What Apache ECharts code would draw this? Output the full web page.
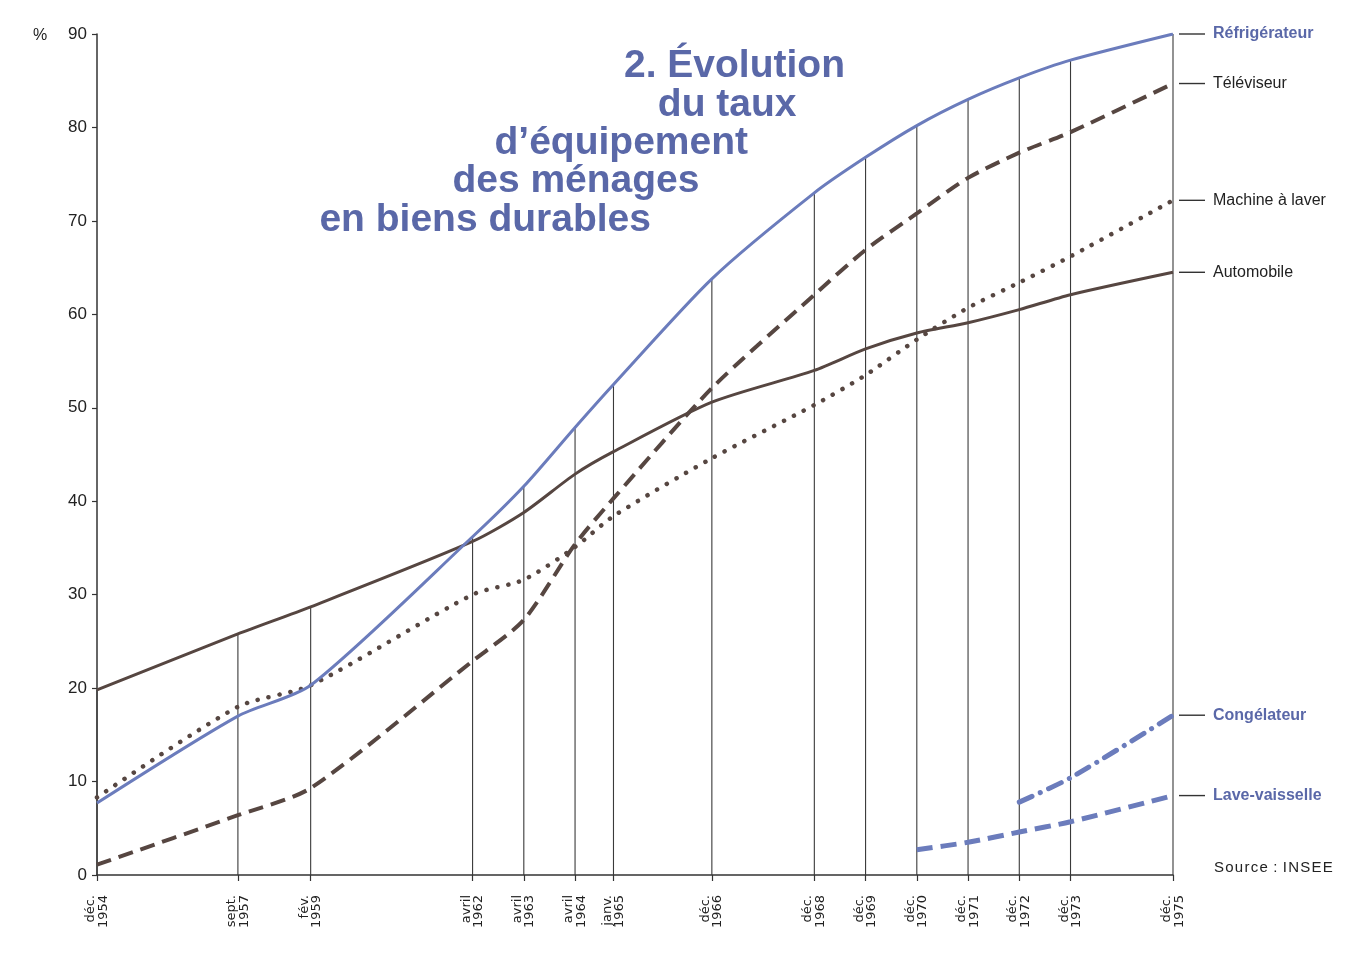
<!DOCTYPE html>
<html><head><meta charset="utf-8">
<script src="https://cdn.jsdelivr.net/npm/echarts@6/dist/echarts.min.js"></script>
<style>html,body{margin:0;padding:0;background:#fff}#c{width:1356px;height:958px}</style>
</head><body><div id="c"></div>
<script>
// Dates (x positions in decimal years) and their tick labels
const dateLabels = ['déc.\n1954','sept.\n1957','fév.\n1959','avril\n1962','avril\n1963','avril\n1964','janv.\n1965','déc.\n1966','déc.\n1968','déc.\n1969','déc.\n1970','déc.\n1971','déc.\n1972','déc.\n1973','déc.\n1975'];
const dateValues = [1954.96,1957.71,1959.13,1962.29,1963.29,1964.29,1965.04,1966.96,1968.96,1969.96,1970.96,1971.96,1972.96,1973.96,1975.96];

// Equipment rates (%)
const refrigerateur = [7.7,17.0,20.3,36.2,41.6,47.9,52.5,63.8,73.0,76.8,80.2,83.0,85.3,87.2,90.0];
const televiseur    = [1.1,6.4,9.3,22.9,27.3,35.4,40.3,52.1,62.1,66.9,70.8,74.6,77.3,79.5,84.7];
const machineALaver = [8.3,18.0,20.3,30.0,31.6,35.1,38.4,44.6,50.3,53.5,57.3,60.7,63.4,66.2,72.2];
const automobile    = [19.8,25.8,28.7,35.7,38.8,42.9,45.3,50.6,54.0,56.3,58.0,59.1,60.5,62.1,64.5];
const congelateur   = [null,null,null,null,null,null,null,null,null,null,null,null,7.8,10.4,17.1];
const laveVaisselle = [null,null,null,null,null,null,null,null,null,null,2.7,3.5,4.6,5.7,8.5];

const yTicks = [0,10,20,30,40,50,60,70,80,90];

const titleLines = ['2. Évolution','du taux','d\u2019équipement','des ménages','en biens durables'];

const BLUE = '#6b7cbc';
const BLUE_T = '#5a68a8';
const BROWN = '#564641';
const FONT = '"Liberation Sans", Arial, Helvetica, sans-serif';

function pairs(arr){ return arr.map((v,i)=>[dateValues[i], v]); }
const allSeries = [refrigerateur, televiseur, machineALaver, automobile, congelateur, laveVaisselle];
const dropData = dateValues.map((x,i)=>[x, Math.max(...allSeries.map(s=>s[i]==null?0:s[i]))]);

function endLbl(name, color, bold){
  return {
    show: true, distance: 6,
    formatter: '{l|}{t|' + name + '}',
    rich: {
      l: {width: 26, height: 1.4, backgroundColor: '#333'},
      t: {color: color, fontSize: 16, fontWeight: bold ? 'bold' : 'normal', fontFamily: FONT, padding: [0,0,0,8]}
    }
  };
}

const chart = echarts.init(document.getElementById('c'), null, {renderer: 'canvas'});
const graphics = [];
titleLines.forEach((t,i)=>{
  graphics.push({type:'text', right: 1356 - (845 - i*48.5), top: 47 + i*38.4,
    style:{text: t, fill: BLUE_T, font: 'bold 39px ' + FONT, textAlign:'right'}});
});
graphics.push({type:'text', left: 33, top: 28, style:{text:'%', fill:'#222', font:'16px ' + FONT}});
graphics.push({type:'text', left: 1214, top: 860, style:{text:'S o u r c e  :  I N S E E'.replace(/ (?! )/g,'\u200A'), fill:'#222', font:'15px ' + FONT}});

chart.setOption({
  backgroundColor: '#fff',
  animation: false,
  grid: {left: 97, right: 183, top: 34, bottom: 83},
  xAxis: {
    type: 'value', min: dateValues[0], max: dateValues[dateValues.length-1],
    splitLine: {show: false},
    axisLine: {show: true, lineStyle: {color: '#333', width: 1.5}},
    axisTick: {show: true, customValues: dateValues, length: 6, lineStyle: {color: '#333', width: 1.2}},
    axisLabel: {
      show: true, customValues: dateValues, rotate: 90, margin: 20,
      fontSize: 13, lineHeight: 12.5, color: '#222', fontFamily: '"DejaVu Sans", sans-serif', align: 'right',
      formatter: function(v){
        let best = 0, d = 1e9;
        dateValues.forEach((x,i)=>{ if (Math.abs(x-v) < d){ d = Math.abs(x-v); best = i; } });
        return dateLabels[best];
      }
    }
  },
  yAxis: {
    type: 'value', min: 0, max: 90, interval: 10,
    splitLine: {show: false},
    axisLine: {show: true, lineStyle: {color: '#333', width: 1.5}},
    axisTick: {show: true, length: 5, lineStyle: {color: '#333', width: 1.2}},
    axisLabel: {fontSize: 17, color: '#222', fontFamily: FONT, margin: 10,
      formatter: v => yTicks.includes(v) ? String(v) : ''}
  },
  graphic: graphics,
  series: [
    {
      type: 'custom', name: 'drop', silent: true, z: 1,
      data: dropData,
      renderItem: function(params, api){
        const p0 = api.coord([api.value(0), 0]);
        const p1 = api.coord([api.value(0), api.value(1)]);
        return {type: 'line', shape: {x1: p0[0], y1: p0[1], x2: p1[0], y2: p1[1]},
          style: {stroke: '#3a3a3a', lineWidth: 1.1}};
      }
    },
    {type:'line', name:'Réfrigérateur', data: pairs(refrigerateur), smooth: 0.25, showSymbol:false, z: 5,
      lineStyle:{color: BLUE, width: 3}, endLabel: endLbl('Réfrigérateur', BLUE_T, true)},
    {type:'line', name:'Téléviseur', data: pairs(televiseur), smooth: 0.25, showSymbol:false, z: 4,
      lineStyle:{color: BROWN, width: 4, type: [15, 8]}, endLabel: endLbl('Téléviseur', '#222', false)},
    {type:'line', name:'Machine à laver', data: pairs(machineALaver), smooth: 0.25, showSymbol:false, z: 4,
      lineStyle:{color: BROWN, width: 4.5, type: [0.1, 11], cap: 'round'}, endLabel: endLbl('Machine à laver', '#222', false)},
    {type:'line', name:'Automobile', data: pairs(automobile), smooth: 0.25, showSymbol:false, z: 4,
      lineStyle:{color: BROWN, width: 3}, endLabel: endLbl('Automobile', '#222', false)},
    {type:'line', name:'Congélateur', data: pairs(congelateur), smooth: 0.25, showSymbol:false, z: 4,
      lineStyle:{color: BLUE, width: 5, type: [14, 9, 0.1, 9], cap: 'round'}, endLabel: endLbl('Congélateur', BLUE_T, true)},
    {type:'line', name:'Lave-vaisselle', data: pairs(laveVaisselle), smooth: 0.25, showSymbol:false, z: 4,
      lineStyle:{color: BLUE, width: 5, type: [16, 8]}, endLabel: endLbl('Lave-vaisselle', BLUE_T, true)}
  ]
});
</script></body></html>
